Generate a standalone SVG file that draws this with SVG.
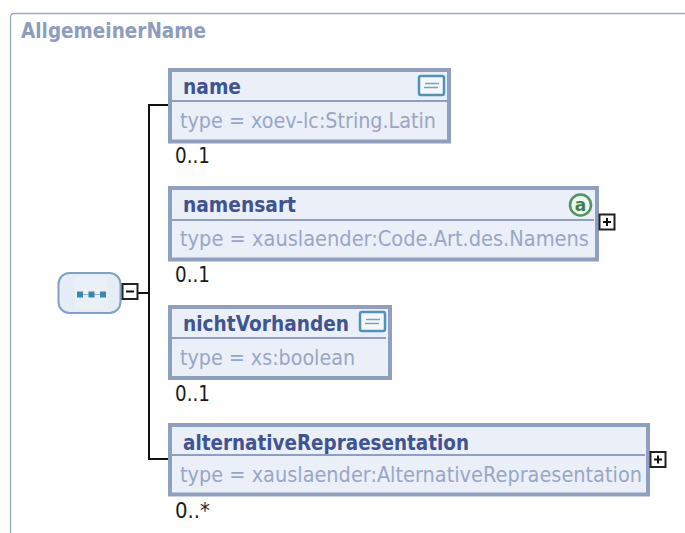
<svg xmlns="http://www.w3.org/2000/svg" width="685" height="533" viewBox="0 0 685 533">
<defs>
<style>
text{font-family:"DejaVu Sans","Noto Sans",sans-serif}
.box{fill:#ebeff8;stroke:#8f9fc0;stroke-width:4}
.div{stroke:#8f9fc0;stroke-width:2;fill:none}
.nm{font-size:22px;font-weight:700;fill:#3f5490}
.ty{font-size:22px;fill:#98a7c6}
.oc{font-size:22px;fill:#1a1a1a}
.tg{fill:#fff;stroke:#222;stroke-width:2}
.sign{stroke:#111;stroke-width:2;fill:none}
.con{stroke:#111;stroke-width:2;fill:none}
.doc{fill:#f4f8fc;stroke:#4f93bd;stroke-width:2.500}
.docl{stroke:#7f9fc0;stroke-width:1.500}
</style>
<g id="docicon"><rect class="doc" x="0" y="0" width="25" height="19" rx="2"/><path class="docl" d="M6 7.500H20M5 11.500H19"/></g>
<g id="plus"><rect class="tg" x="0" y="0" width="15" height="15"/><path class="sign" d="M3.500 7.500H11.500M7.500 3.500V11.500"/></g>
</defs>
<g id="frame"><path d="M10.500 533V17a3.500 3.500 0 0 1 3.500-3.500H685" fill="none" stroke="#9aa8c6" stroke-width="1.300"/><text x="21" y="38" font-size="21" font-weight="700" fill="#8c9dbf" textLength="185" lengthAdjust="spacingAndGlyphs">AllgemeinerName</text></g>
<g id="connectors">
<path class="con" d="M168 105H149V459H168M138 293H149"/>
</g>
<g id="sequence">
<rect x="58.500" y="273" width="62" height="40" rx="11" fill="#e6edf6" stroke="#7ea1c6" stroke-width="2"/>
<rect x="75" y="277" width="32" height="32" fill="#ebf0f7"/>
<path d="M80 294.500H103" stroke="#8fb4d0" stroke-width="1"/>
<rect x="77" y="291.500" width="6" height="6" fill="#3a86b5"/><rect x="88.500" y="291.500" width="6" height="6" fill="#3a86b5"/><rect x="100" y="291.500" width="6" height="6" fill="#3a86b5"/>
<rect class="tg" x="122.500" y="284" width="15" height="15"/><path class="sign" d="M126 291.500H134"/>
</g>
<g id="node-name">
<rect class="box" x="170" y="70" width="279" height="71.500"/><path class="div" d="M172 101H447"/>
<text class="nm" x="183" y="94" textLength="58" lengthAdjust="spacingAndGlyphs">name</text>
<use href="#docicon" x="419" y="76"/>
<text class="ty" x="180" y="128" textLength="256" lengthAdjust="spacingAndGlyphs">type = xoev-lc:String.Latin</text>
<text class="oc" x="175" y="163" textLength="35" lengthAdjust="spacingAndGlyphs">0..1</text>
</g>
<g id="node-namensart">
<rect class="box" x="170" y="188" width="427" height="71.500"/><path class="div" d="M172 220H594"/>
<text class="nm" x="183" y="212" textLength="113" lengthAdjust="spacingAndGlyphs">namensart</text>
<circle cx="580.500" cy="205" r="10.500" fill="#eef5ee" stroke="#4f9560" stroke-width="2.500"/>
<text x="580.500" y="211" font-size="17" font-weight="700" fill="#3f7f50" text-anchor="middle">a</text>
<text class="ty" x="180" y="246" textLength="409" lengthAdjust="spacingAndGlyphs">type = xauslaender:Code.Art.des.Namens</text>
<text class="oc" x="175" y="282" textLength="35" lengthAdjust="spacingAndGlyphs">0..1</text>
<use href="#plus" x="599.500" y="214.500"/>
</g>
<g id="node-nichtVorhanden">
<rect class="box" x="170" y="307" width="220" height="71"/><path class="div" d="M172 338H386"/>
<text class="nm" x="183" y="331" textLength="166" lengthAdjust="spacingAndGlyphs">nichtVorhanden</text>
<use href="#docicon" x="360" y="312"/>
<text class="ty" x="180" y="365" textLength="175" lengthAdjust="spacingAndGlyphs">type = xs:boolean</text>
<text class="oc" x="175" y="401" textLength="35" lengthAdjust="spacingAndGlyphs">0..1</text>
</g>
<g id="node-alternativeRepraesentation">
<rect class="box" x="170" y="425" width="478" height="69.500"/><path class="div" d="M172 455H645"/>
<text class="nm" x="183" y="450" textLength="286" lengthAdjust="spacingAndGlyphs">alternativeRepraesentation</text>
<text class="ty" x="180" y="482" textLength="462" lengthAdjust="spacingAndGlyphs">type = xauslaender:AlternativeRepraesentation</text>
<text class="oc" x="175" y="518" textLength="35" lengthAdjust="spacingAndGlyphs">0..*</text>
<use href="#plus" x="650.500" y="452"/>
</g>
</svg>
